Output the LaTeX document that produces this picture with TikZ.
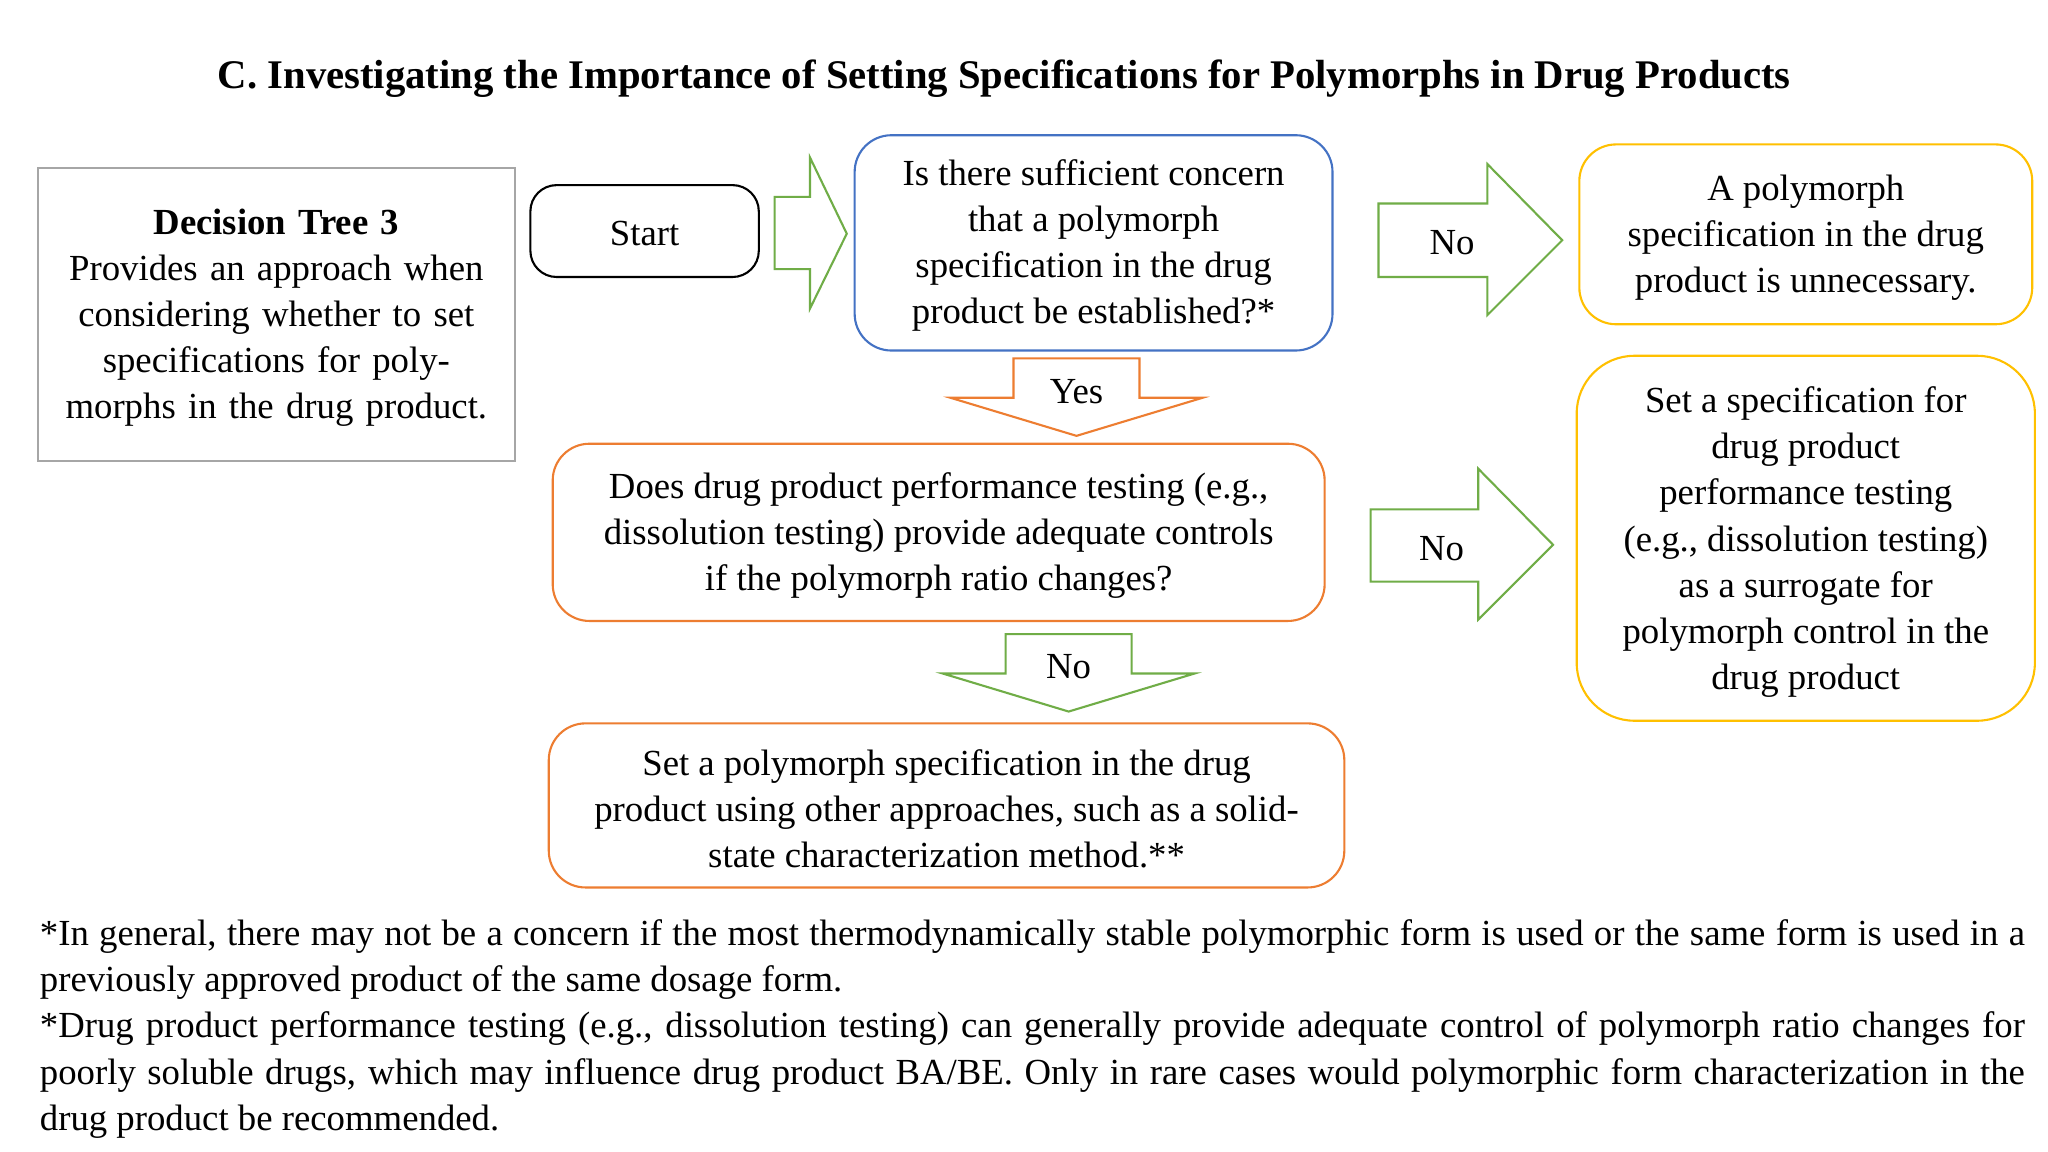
\documentclass[tikz,border=0pt]{standalone}
\usepackage{fontspec}
\setmainfont{Liberation Serif}
\begin{document}
\begin{tikzpicture}[x=0.5pt,y=-0.5pt,
  txt/.style={font=\fontsize{14}{17.6}\selectfont,align=center,inner sep=0pt},
  bx/.style={rounded corners=10pt,line width=0.8pt},
  blue1/.style={draw=blue!60!black!70!cyan},
]
\definecolor{bblue}{RGB}{68,114,196}
\definecolor{borange}{RGB}{237,125,49}
\definecolor{byellow}{RGB}{255,192,0}
\definecolor{bgreen}{RGB}{112,173,71}
\useasboundingbox (0,0) rectangle (1560,877.5);
\fill[white] (0,0) rectangle (1560,877.5);
\node[txt,font=\fontsize{15.5}{18}\selectfont\bfseries] (title) at (765,60) {C. Investigating the Importance of Setting Specifications for Polymorphs in Drug Products};
% decision tree box
\draw[gray!70,line width=0.8pt] (29,128) rectangle (392,351);
\node[txt,text width=180pt] (dt) at (210.5,242) {\textbf{Decision Tree 3}\\Provides an approach when considering whether to set specifications for polymorphs in the drug product.};
% start
\draw[bx,black] (404,141) rectangle (578,211);
\node[txt] (start) at (491,178) {Start};
\draw[bgreen,line width=0.8pt] (590,150) -- (617,150) -- (617,120) -- (645,178) -- (617,235) -- (617,205) -- (590,205) -- cycle;
% Q1
\draw[bx,bblue,rounded corners=14pt] (651,103) rectangle (1015,267);
\node[txt] (q1) at (833,187) {Is there sufficient concern\\that a polymorph\\specification in the drug\\product be established?*};
% No arrow 1
\draw[bgreen,line width=0.8pt] (1050,155) -- (1133,155) -- (1133,125) -- (1190,183) -- (1133,240) -- (1133,211) -- (1050,211) -- cycle;
\node[txt] (no1) at (1106,185) {No};
% A box
\draw[bx,byellow,rounded corners=14pt] (1203,110) rectangle (1548,247);
\node[txt] (a) at (1375.5,181) {A polymorph\\specification in the drug\\product is unnecessary.};
% Yes arrow
\draw[borange,line width=0.8pt] (772,273) -- (868,273) -- (868,303) -- (916,303) -- (820,332) -- (724,303) -- (772,303) -- cycle;
\node[txt] (yes) at (820,298) {Yes};
% Q2
\draw[bx,borange,rounded corners=14pt] (421,338) rectangle (1009,473);
\node[txt] (q2) at (715,408) {Does drug product performance testing (e.g.,\\dissolution testing) provide adequate controls\\if the polymorph ratio changes?};
% No arrow 2
\draw[bgreen,line width=0.8pt] (1044,388) -- (1126,388) -- (1126,357) -- (1183,415) -- (1126,472) -- (1126,443) -- (1044,443) -- cycle;
\node[txt] (no2) at (1098,418) {No};
% Set spec box
\draw[bx,byellow,rounded corners=22pt] (1201,271) rectangle (1550,549);
\node[txt] (s) at (1375.5,413) {Set a specification for\\drug product\\performance testing\\(e.g., dissolution testing)\\as a surrogate for\\polymorph control in the\\drug product};
% No arrow down
\draw[bgreen,line width=0.8pt] (766,483) -- (862,483) -- (862,513) -- (910,513) -- (814,542) -- (718,513) -- (766,513) -- cycle;
\node[txt] (no3) at (814,508) {No};
% final
\draw[bx,borange,rounded corners=14pt] (418,551) rectangle (1024,676);
\node[txt] (f) at (721,616) {Set a polymorph specification in the drug\\product using other approaches, such as a solid-\\state characterization method.**};
% footnotes
\node[txt,text width=756pt,align=justify,anchor=north west] (fn) at (30,700) {*In general, there may not be a concern if the most thermodynamically stable polymorphic form is used or the same form is used in a previously approved product of the same dosage form.\\**Drug product performance testing (e.g., dissolution testing) can generally provide adequate control of polymorph ratio changes for poorly soluble drugs, which may influence drug product BA/BE. Only in rare cases would polymorphic form characterization in the drug product be recommended.};
\end{tikzpicture}
\end{document}
